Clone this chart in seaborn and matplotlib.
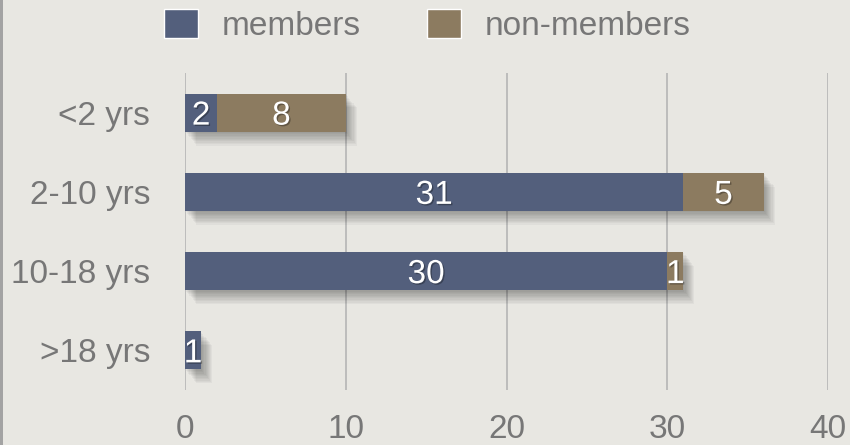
import matplotlib
matplotlib.use("Agg")
import matplotlib.pyplot as plt
import matplotlib.patheffects as pe
from matplotlib.patches import Patch, Rectangle
import pandas as pd
import seaborn as sns

# data
groups = ["<2 yrs", "2-10 yrs", "10-18 yrs", ">18 yrs"]
members = [2, 31, 30, 1]
non_members = [8, 5, 1, 0]
x_ticks = [0, 10, 20, 30, 40]

MEM_COLOR = "#535f7c"
NON_COLOR = "#8c7b60"
BG = "#e8e7e2"
TXT = "#777777"
FS = 24

sns.set_theme(style="white")
plt.rcParams["font.family"] = ["Liberation Sans", "DejaVu Sans"]

df = pd.DataFrame({"group": groups, "members": members, "non_members": non_members})
df["total"] = df["members"] + df["non_members"]

fig = plt.figure(figsize=(8.5, 4.45), dpi=100, facecolor=BG)
# thin gray strip on the left edge
fig.patches.append(Rectangle((0, 0), 0.004, 1, transform=fig.transFigure,
                             facecolor="#a3a3a3", edgecolor="none"))
ax = fig.add_axes([185 / 850, 1 - 390 / 445, (828 - 185) / 850, (390 - 73) / 445])
ax.set_facecolor(BG)
ax.grid(axis="x", color="#b9b9b9", linewidth=1.3)
ax.set_axisbelow(True)

# soft drop shadow made of several stacked offsets
shadow = [pe.SimplePatchShadow(offset=(0.8 * o, -o), shadow_rgbFace="black", alpha=0.035)
          for o in range(1, 11)] + [pe.Normal()]

sns.barplot(data=df, x="total", y="group", order=groups, orient="h",
            color=NON_COLOR, saturation=1, width=0.48, linewidth=0, ax=ax)
sns.barplot(data=df, x="members", y="group", order=groups, orient="h",
            color=MEM_COLOR, saturation=1, width=0.48, linewidth=0, ax=ax)
for bar in ax.containers[0]:
    bar.set_path_effects(shadow)

txt_fx = [pe.withSimplePatchShadow(offset=(1, -1), shadow_rgbFace="black", alpha=0.3)]
for i, row in df.iterrows():
    if row["members"] > 0:
        ax.text(row["members"] / 2, i, str(row["members"]), color="white",
                fontsize=FS, ha="center", va="center_baseline", path_effects=txt_fx)
    if row["non_members"] > 0:
        ax.text(row["members"] + row["non_members"] / 2, i, str(row["non_members"]),
                color="white", fontsize=FS, ha="center", va="center_baseline",
                path_effects=txt_fx)

ax.set_xlim(0, 40)
ax.set_xticks(x_ticks)
ax.set_xlabel("")
ax.set_ylabel("")
for s in ax.spines.values():
    s.set_visible(False)
ax.tick_params(axis="x", length=0, pad=17, labelsize=FS, labelcolor=TXT)
ax.tick_params(axis="y", length=0, pad=25, labelsize=FS, labelcolor=TXT)

handles = [Patch(facecolor=MEM_COLOR, label="members"),
           Patch(facecolor=NON_COLOR, label="non-members")]
fig.legend(handles=handles, loc="upper center", bbox_to_anchor=(0.503, 1.048), ncol=2,
           frameon=False, fontsize=FS, labelcolor=TXT, handlelength=1.0,
           handleheight=1.0, handletextpad=0.72, columnspacing=2.0)

fig.savefig("out.png", dpi=100, facecolor=BG)
